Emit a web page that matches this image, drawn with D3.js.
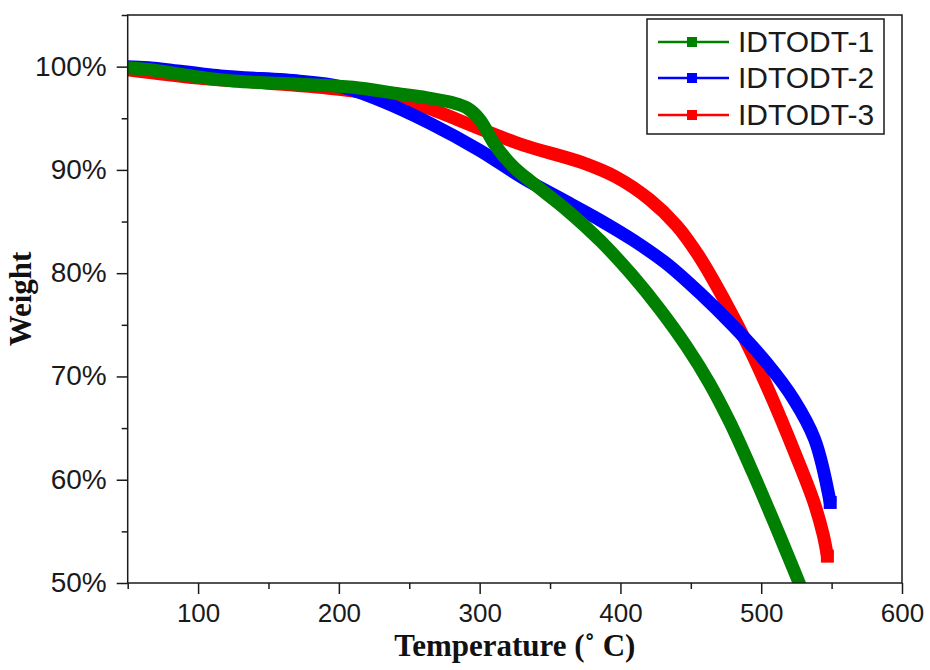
<!DOCTYPE html>
<html>
<head>
<meta charset="utf-8">
<script src="https://cdn.jsdelivr.net/npm/d3@7"></script>
<style>
  html, body { margin: 0; padding: 0; background: #fff; }
  svg { display: block; }
</style>
</head>
<body>
<svg id="chart" width="930" height="670"></svg>
<script>
// ---- Data ----
const seriesNames = ["IDTODT-1", "IDTODT-2", "IDTODT-3"];
const seriesColors = ["#008000", "#0000ff", "#ff0000"];

const temp1 = [50, 66, 95, 125, 172, 210, 241, 262, 281, 291, 300, 311, 324, 338, 362, 386, 409, 428, 447, 463, 478, 494, 510, 524, 534];
const weight1 = [99.9, 99.7, 99.1, 98.6, 98.3, 98.0, 97.4, 97.0, 96.5, 96.0, 94.9, 92.4, 90.3, 88.7, 86.1, 83.1, 79.7, 76.5, 72.9, 69.4, 65.5, 60.7, 55.6, 51.0, 47.6];

const temp2 = [50, 65, 116, 172, 200, 230, 265, 300, 331, 362, 386, 409, 433, 457, 480, 504, 523, 538, 549];
const weight2 = [100.0, 99.9, 99.1, 98.6, 98.1, 96.7, 94.5, 91.9, 89.2, 86.9, 85.1, 83.2, 80.9, 78.0, 74.9, 71.3, 67.8, 63.9, 57.8];

const temp3 = [50, 100, 150, 200, 240, 265, 300, 331, 373, 397, 421, 440, 456, 473, 492, 508, 523, 537, 544, 547];
const weight3 = [99.7, 98.9, 98.4, 97.8, 97.0, 95.9, 94.0, 92.4, 90.7, 89.3, 87.1, 84.6, 81.6, 77.6, 72.6, 67.8, 62.9, 58.0, 54.7, 52.6];

const xMajorTicks = [100, 200, 300, 400, 500, 600];
const xMinorTicks = [50, 150, 250, 350, 450, 550];
const yMajorTicks = [50, 60, 70, 80, 90, 100];
const yMinorTicks = [55, 65, 75, 85, 95, 105];

const xTitle = "Temperature (˚ C)";
const yTitle = "Weight";

// ---- Layout ----
const L = 127.7, R = 902, T = 15, B = 583;
const svg = d3.select("#chart");

const x = d3.scaleLinear().domain([50, 600]).range([L, R]);
const y = d3.scaleLinear().domain([50, 105]).range([B, T]);

const ink = "#1a1a1a";
const sansFont = "'Liberation Sans', Arial, sans-serif";
const serifFont = "'Liberation Serif', 'Times New Roman', serif";

// clip
svg.append("defs").append("clipPath").attr("id", "plotclip")
  .append("rect").attr("x", L).attr("y", T).attr("width", R - L).attr("height", B - T);

// ---- Axes ----
const gx = svg.append("g").attr("transform", `translate(0,${B})`)
  .call(d3.axisBottom(x).tickValues(xMajorTicks).tickSize(11).tickPadding(10).tickFormat(d3.format("d")));
gx.select(".domain").remove();
gx.selectAll(".tick line").attr("stroke", ink).attr("stroke-width", 1.5);
gx.selectAll(".tick text").attr("fill", ink).attr("font-family", sansFont).attr("font-size", 26)
  .attr("dy", null).attr("y", 39);

const gxm = svg.append("g").attr("transform", `translate(0,${B})`)
  .call(d3.axisBottom(x).tickValues(xMinorTicks).tickSize(6).tickFormat(""));
gxm.select(".domain").remove();
gxm.selectAll(".tick line").attr("stroke", ink).attr("stroke-width", 1.5);

const gy = svg.append("g").attr("transform", `translate(${L},0)`)
  .call(d3.axisLeft(y).tickValues(yMajorTicks).tickSize(11).tickPadding(10).tickFormat(d => d + "%"));
gy.select(".domain").remove();
gy.selectAll(".tick line").attr("stroke", ink).attr("stroke-width", 1.5);
gy.selectAll(".tick text").attr("fill", ink).attr("font-family", sansFont).attr("font-size", 28)
  .attr("dy", "0.3em");

const gym = svg.append("g").attr("transform", `translate(${L},0)`)
  .call(d3.axisLeft(y).tickValues(yMinorTicks).tickSize(6).tickFormat(""));
gym.select(".domain").remove();
gym.selectAll(".tick line").attr("stroke", ink).attr("stroke-width", 1.5);

// ---- Curves ----
const series = [
  { name: seriesNames[0], color: seriesColors[0], t: temp1, w: weight1, endMarker: false },
  { name: seriesNames[1], color: seriesColors[1], t: temp2, w: weight2, endMarker: true },
  { name: seriesNames[2], color: seriesColors[2], t: temp3, w: weight3, endMarker: true }
];

const line = d3.line().x(d => x(d[0])).y(d => y(d[1])).curve(d3.curveCatmullRom.alpha(0.5));
const plotG = svg.append("g").attr("clip-path", "url(#plotclip)");
const lw = 13;
// draw order: red, blue, green (green on top)
[2, 1, 0].forEach(i => {
  const s = series[i];
  const pts = s.t.map((t, k) => [t, s.w[k]]);
  plotG.append("path").datum(pts)
    .attr("d", line)
    .attr("fill", "none")
    .attr("stroke", s.color)
    .attr("stroke-width", lw)
    .attr("stroke-linejoin", "round")
    .attr("stroke-linecap", "butt");
  if (s.endMarker) {
    const last = pts[pts.length - 1];
    plotG.append("rect")
      .attr("x", x(last[0]) - lw / 2).attr("y", y(last[1]) - lw / 2)
      .attr("width", lw).attr("height", lw).attr("fill", s.color);
  }
});

// ---- Frame ----
svg.append("rect").attr("x", L).attr("y", T).attr("width", R - L).attr("height", B - T)
  .attr("fill", "none").attr("stroke", ink).attr("stroke-width", 1.5);

// ---- Axis titles ----
svg.append("text").attr("x", (L + R) / 2).attr("y", 656).attr("text-anchor", "middle")
  .attr("font-family", serifFont).attr("font-weight", "bold").attr("font-size", 31)
  .attr("fill", "#111").text(xTitle);

svg.append("text").attr("transform", `translate(31,${(T + B) / 2}) rotate(-90)`)
  .attr("text-anchor", "middle")
  .attr("font-family", serifFont).attr("font-weight", "bold").attr("font-size", 31)
  .attr("fill", "#111").text(yTitle);

// ---- Legend ----
const lg = svg.append("g");
lg.append("rect").attr("x", 647).attr("y", 19).attr("width", 237).attr("height", 115)
  .attr("fill", "#fff").attr("stroke", ink).attr("stroke-width", 1.5);
const rowY = [42, 78, 115];
series.forEach((s, i) => {
  const yy = rowY[i];
  lg.append("line").attr("x1", 658).attr("x2", 729).attr("y1", yy).attr("y2", yy)
    .attr("stroke", s.color).attr("stroke-width", 2.5);
  lg.append("rect").attr("x", 692 - 5).attr("y", yy - 5).attr("width", 10).attr("height", 10)
    .attr("fill", s.color);
  lg.append("text").attr("x", 738).attr("y", yy + 10)
    .attr("font-family", sansFont).attr("font-size", 30).attr("fill", ink).text(s.name);
});
</script>
</body>
</html>
